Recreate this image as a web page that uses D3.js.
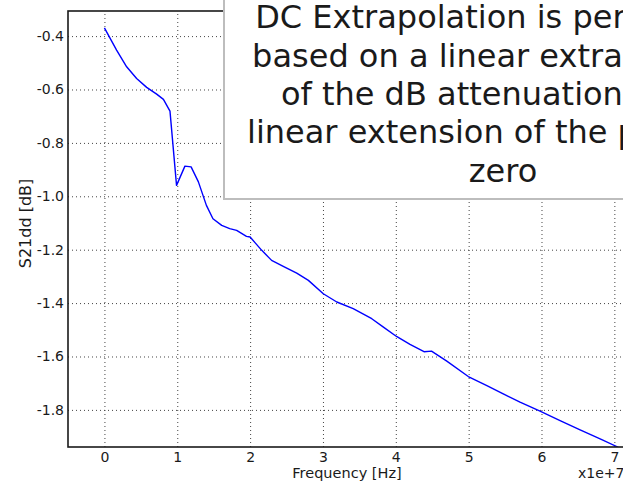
<!DOCTYPE html>
<html>
<head>
<meta charset="utf-8">
<script src="https://cdn.jsdelivr.net/npm/d3@7"></script>
<style>
  html, body { margin: 0; padding: 0; background: #fff; }
  svg { display: block; }
  text { font-family: "DejaVu Sans", sans-serif; }
</style>
</head>
<body>
<div id="chart"></div>
<script>
// Frequency in units of 1e7 Hz (axis offset "x1e+7")
const freq = [0, 0.167, 0.305, 0.442, 0.58, 0.717, 0.81, 0.9, 0.99, 1.105, 1.19, 1.29, 1.40, 1.49, 1.61, 1.72,
  1.815, 1.95, 2.0, 2.16, 2.295, 2.455, 2.64, 2.80, 3.005, 3.19, 3.415, 3.67, 3.83, 4.01, 4.195, 4.387, 4.49,
  4.70, 4.995, 5.25, 5.475, 5.705, 5.98, 6.255, 6.53, 6.805, 7.055];
const s21dd = [-0.369, -0.4525, -0.515, -0.559, -0.592, -0.6175, -0.637, -0.681, -0.959, -0.887, -0.89, -0.946, -1.034, -1.084, -1.109, -1.121,
  -1.1275, -1.150, -1.1525, -1.2025, -1.24, -1.2625, -1.2875, -1.315, -1.365, -1.396, -1.421, -1.4585, -1.49, -1.525, -1.555, -1.582, -1.58,
  -1.6175, -1.675, -1.709, -1.74, -1.771, -1.805, -1.84, -1.875, -1.9085, -1.94];

const xTicks = [0, 1, 2, 3, 4, 5, 6, 7];
const xTickLabels = ["0", "1", "2", "3", "4", "5", "6", "7"];
const yTicks = [-1.8, -1.6, -1.4, -1.2, -1.0, -0.8, -0.6, -0.4];
const yTickLabels = ["-1.8", "-1.6", "-1.4", "-1.2", "-1.0", "-0.8", "-0.6", "-0.4"];
const xDomain = [-0.5, 7.16];
const yDomain = [-1.939, -0.306];

const xLabel = "Frequency [Hz]";
const yLabel = "S21dd [dB]";
const offsetLabel = "x1e+7";
const noteLines = [
  "DC Extrapolation is performed",
  "based on a linear extrapolation",
  "of the dB attenuation and a",
  "linear extension of the phase to",
  "zero"
];

const W = 623, H = 482;
const L = 68, R = 626, T = 11, B = 447;

const svg = d3.select("#chart").append("svg").attr("width", W).attr("height", H);
svg.append("rect").attr("width", W).attr("height", H).attr("fill", "#fff");

const x = d3.scaleLinear().domain(xDomain).range([L, R]);
const y = d3.scaleLinear().domain(yDomain).range([B, T]);

// grid
const gx = svg.append("g").attr("transform", `translate(0,${B})`)
  .call(d3.axisBottom(x).tickValues(xTicks).tickSize(-(B - T)).tickFormat(""));
gx.select(".domain").remove();
gx.selectAll("line").attr("stroke", "#444").attr("stroke-width", 1).attr("stroke-dasharray", "1,3");

const gy = svg.append("g").attr("transform", `translate(${L},0)`)
  .call(d3.axisLeft(y).tickValues(yTicks).tickSize(-(R - L)).tickFormat(""));
gy.select(".domain").remove();
gy.selectAll("line").attr("stroke", "#444").attr("stroke-width", 1).attr("stroke-dasharray", "1,3");

// data line
svg.append("clipPath").attr("id", "plotclip").append("rect")
  .attr("x", L).attr("y", T).attr("width", R - L).attr("height", B - T);
const pts = freq.map((f, i) => [f, s21dd[i]]);
svg.append("path").datum(pts)
  .attr("clip-path", "url(#plotclip)")
  .attr("fill", "none").attr("stroke", "#0000ff").attr("stroke-width", 1.4)
  .attr("stroke-linejoin", "round")
  .attr("d", d3.line().x(d => x(d[0])).y(d => y(d[1])));

// spines
svg.append("rect").attr("x", L).attr("y", T).attr("width", R - L).attr("height", B - T)
  .attr("fill", "none").attr("stroke", "#1a1a1a").attr("stroke-width", 1.6);

// tick labels
const ax = svg.append("g").attr("transform", `translate(0,${B})`)
  .call(d3.axisBottom(x).tickValues(xTicks).tickSize(0).tickPadding(5)
    .tickFormat((d, i) => xTickLabels[i]));
ax.select(".domain").remove();
ax.selectAll("text").attr("font-size", 14).attr("font-family", "DejaVu Sans").attr("fill", "#1a1a1a");

const ay = svg.append("g").attr("transform", `translate(${L},0)`)
  .call(d3.axisLeft(y).tickValues(yTicks).tickSize(0).tickPadding(4)
    .tickFormat((d, i) => yTickLabels[i]));
ay.select(".domain").remove();
ay.selectAll("text").attr("font-size", 14).attr("font-family", "DejaVu Sans").attr("fill", "#1a1a1a");

// axis labels
svg.append("text").attr("x", (L + R) / 2).attr("y", 478).attr("text-anchor", "middle")
  .attr("font-size", 14.5).attr("fill", "#1a1a1a").text(xLabel);
svg.append("text").attr("x", 578).attr("y", 478).attr("text-anchor", "start")
  .attr("font-size", 14).attr("fill", "#1a1a1a").text(offsetLabel);
svg.append("text").attr("transform", `translate(31,223.5) rotate(-90)`).attr("text-anchor", "middle")
  .attr("font-size", 16).attr("fill", "#1a1a1a").text(yLabel);

// annotation box
svg.append("rect").attr("x", 224).attr("y", -10).attr("width", 560).attr("height", 209)
  .attr("fill", "#fff").attr("stroke", "#bdbdbd").attr("stroke-width", 2);
const noteX = [255.2, 252.1, 280.9, 247, 468.8];
const note = svg.append("g");
noteLines.forEach((t, i) => {
  note.append("text").attr("x", noteX[i]).attr("y", 28.3 + i * 38.35)
    .attr("font-size", 32).attr("fill", "#1a1a1a").text(t);
});
</script>
</body>
</html>
